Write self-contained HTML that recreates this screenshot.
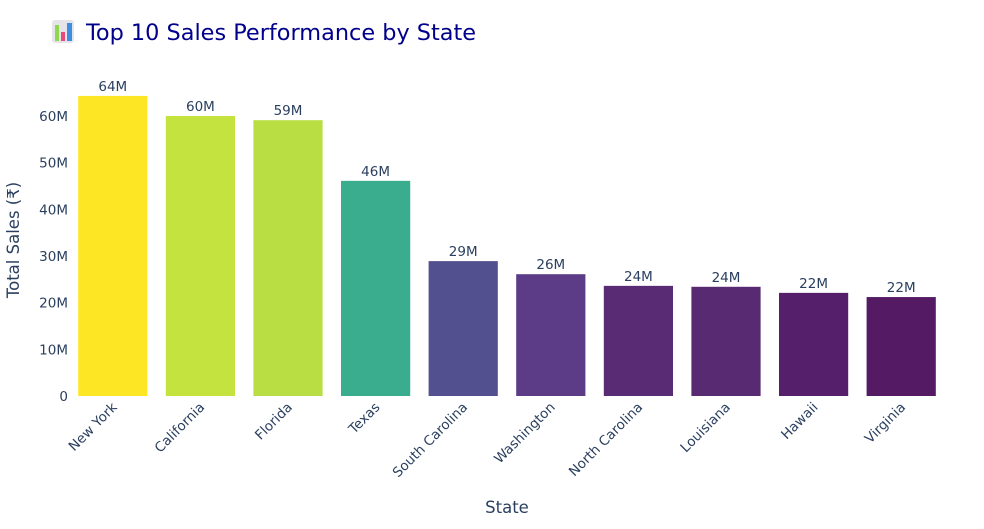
<!DOCTYPE html>
<html><head><meta charset="utf-8">
<style>
body{margin:0;background:#fff;font-family:"DejaVu Sans","Liberation Sans",sans-serif;}
svg text{font-family:"DejaVu Sans","Liberation Sans",sans-serif;}
</style></head>
<body>
<svg id="chart" width="984" height="525" xmlns="http://www.w3.org/2000/svg">
  <g>
    <rect x="52" y="20" width="22" height="23" rx="3" fill="#e4e4ea"/>
    <rect x="55" y="25" width="4" height="16" fill="#8fd84e"/>
    <rect x="61" y="32" width="4" height="9" fill="#e84a7a"/>
    <rect x="67" y="23" width="5" height="18" fill="#3a8fe0"/>
  </g>
  <text x="86" y="40" font-size="22.4" fill="#00008b">Top 10 Sales Performance by State</text>
  <g id="grid"></g>
  <g id="bars"></g>
  <g id="labels"></g>
  <text x="507" y="513" font-size="16.5" fill="#2a3f5f" text-anchor="middle">State</text>
  <text transform="translate(19,240) rotate(-90)" font-size="16.5" fill="#2a3f5f" text-anchor="middle">Total Sales (₹)</text>
</svg>
<script>
const categories=["New York","California","Florida","Texas","South Carolina","Washington","North Carolina","Louisiana","Hawaii","Virginia"];
const sales=[64.3,60.0,59.1,46.1,28.9,26.1,23.6,23.4,22.1,21.2];
const valueLabels=["64M","60M","59M","46M","29M","26M","24M","24M","22M","22M"];
const yTicks=[0,10,20,30,40,50,60];
const barColors=["#fde725","#c5e33e","#b8de43","#3aad8e","#52508e","#5c3c86","#592b74","#572a72","#561f6c","#541a64"];
const NS="http://www.w3.org/2000/svg";
const x0=69,x1=945,yBase=396,pxPerM=4.667;
const band=(x1-x0)/categories.length;
const xC=i=>x0+band*(i+0.5);
const yS=v=>yBase-v*pxPerM;
function mk(tag,attrs,parent){const e=document.createElementNS(NS,tag);for(const k in attrs)e.setAttribute(k,attrs[k]);parent.appendChild(e);return e;}
const grid=document.getElementById('grid'),bars=document.getElementById('bars'),labels=document.getElementById('labels');
yTicks.forEach(t=>{
  const tx=mk('text',{x:68,y:yS(t)+5,'font-size':13.5,fill:'#2a3f5f','text-anchor':'end'},grid);
  
  
  tx.textContent=t===0?'0':t+'M';
});
categories.forEach((c,i)=>{
  const w=band*0.79;
  const r=mk('rect',{x:xC(i)-w/2,y:yS(sales[i]),width:w,height:sales[i]*pxPerM,fill:barColors[i]},bars);
  
  
  const v=mk('text',{x:xC(i),y:yS(sales[i])-5,'font-size':13.5,fill:'#2a3f5f','text-anchor':'middle'},labels);
  
  
  v.textContent=valueLabels[i];
  const l=mk('text',{x:0,y:0,'font-size':13.5,fill:'#2a3f5f','text-anchor':'end',transform:`translate(${xC(i)+5},${yBase+12}) rotate(-45)`},labels);
  
  
  l.textContent=c;
});
</script>
</body></html>
